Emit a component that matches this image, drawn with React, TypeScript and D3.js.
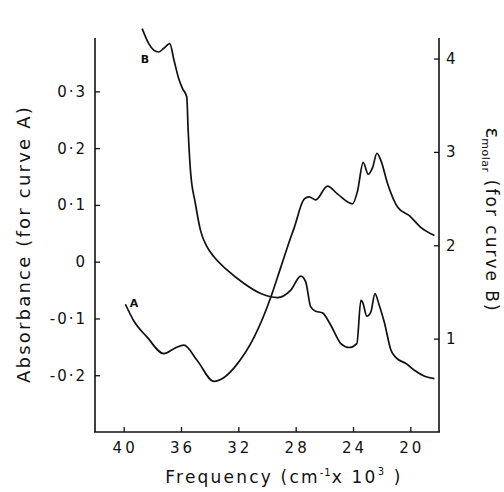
import React, { useEffect, useRef } from "react";
import * as d3 from "d3";

// curve A: absorbance (left axis)
const freqA = [39.88, 39.3, 38.36, 37.2, 36.4, 35.8, 34.87, 33.7, 33.0, 32.07, 30.9, 29.74, 29.04, 28.34, 28.1, 27.41, 27.06, 26.6, 25.78, 25.07, 24.03, 23.68, 23.29, 22.94, 22.63, 22.33, 22.05, 21.58, 20.88, 20.07, 19.25, 18.32];
const absA = [-0.075, -0.104, -0.133, -0.162, -0.152, -0.147, -0.174, -0.211, -0.204, -0.18, -0.133, -0.063, -0.01, 0.043, 0.06, 0.11, 0.114, 0.109, 0.133, 0.119, 0.102, 0.125, 0.175, 0.154, 0.166, 0.191, 0.178, 0.137, 0.096, 0.081, 0.06, 0.046];

// curve B: molar extinction (right axis)
const freqB = [38.71, 38.25, 37.9, 37.55, 37.2, 36.78, 36.5, 36.15, 35.9, 35.6, 35.5, 35.34, 35.0, 34.64, 34.17, 33.7, 32.77, 31.6, 30.44, 29.27, 28.34, 27.64, 27.3, 26.95, 26.6, 26.13, 25.55, 24.85, 24.27, 23.73, 23.45, 23.33, 23.03, 22.75, 22.47, 22.17, 21.82, 21.35, 21.0, 20.3, 19.72, 19.0, 18.32];
const epsB = [4.32, 4.16, 4.09, 4.07, 4.11, 4.16, 3.99, 3.78, 3.68, 3.59, 3.23, 2.8, 2.45, 2.16, 1.98, 1.876, 1.733, 1.59, 1.483, 1.44, 1.52, 1.669, 1.608, 1.34, 1.294, 1.276, 1.144, 0.947, 0.905, 0.947, 1.41, 1.39, 1.24, 1.286, 1.483, 1.358, 1.179, 0.876, 0.797, 0.733, 0.661, 0.597, 0.572];

const freqTicks = [40, 36, 32, 28, 24, 20];
const absTicks = [-0.2, -0.1, 0, 0.1, 0.2, 0.3];
const absTickLabels = ["-0·2", "-0·1", "0", "0·1", "0·2", "0·3"];
const epsTicks = [1, 2, 3, 4];

const W = 504;
const H = 492;
const left = 95, right = 439, top = 38, bottom = 432;
const font = "'DejaVu Sans', sans-serif";

export default function App() {
  const ref = useRef<SVGSVGElement>(null);

  const x = d3.scaleLinear().domain([42, 18]).range([left, right]);
  const yA = d3.scaleLinear().domain([-0.3, 0.394]).range([bottom, top]);
  const yB = d3.scaleLinear().domain([0, 4.22]).range([bottom, top]);

  useEffect(() => {
    const svg = d3.select(ref.current);
    svg.selectAll(".ax").remove();

    const xAxis = d3.axisTop(x).tickValues(freqTicks).tickSize(5).tickFormat(() => "");
    svg.append("g").attr("class", "ax").attr("transform", `translate(0,${bottom})`).call(xAxis);

    const lAxis = d3.axisRight(yA).tickValues(absTicks).tickSize(5).tickFormat(() => "");
    svg.append("g").attr("class", "ax").attr("transform", `translate(${left},0)`).call(lAxis);

    const rAxis = d3.axisLeft(yB).tickValues(epsTicks).tickSize(5).tickFormat(() => "");
    svg.append("g").attr("class", "ax").attr("transform", `translate(${right},0)`).call(rAxis);

    svg.selectAll(".ax .domain").remove();
    svg.selectAll(".ax line").attr("stroke", "#111").attr("stroke-width", 1.3);

    // bottom tick labels
    svg.append("g").attr("class", "ax")
      .selectAll("text").data(freqTicks).join("text")
      .attr("x", d => x(d) + 1.5).attr("y", 453)
      .attr("text-anchor", "middle")
      .attr("font-family", font).attr("font-size", 15).attr("letter-spacing", 3).attr("fill", "#111")
      .text(d => String(d));

    svg.append("g").attr("class", "ax")
      .selectAll("text").data(absTicks).join("text")
      .attr("x", 87).attr("y", d => yA(d) + 5.5)
      .attr("text-anchor", "end")
      .attr("font-family", font).attr("font-size", 15).attr("letter-spacing", 2).attr("fill", "#111")
      .text((d, i) => absTickLabels[i]);

    svg.append("g").attr("class", "ax")
      .selectAll("text").data(epsTicks).join("text")
      .attr("x", 446).attr("y", d => yB(d) + 5.5)
      .attr("text-anchor", "start")
      .attr("font-family", font).attr("font-size", 15).attr("fill", "#111")
      .text(d => String(d));
  }, []);

  const lineA = d3.line<number>()
    .x((d, i) => x(freqA[i]))
    .y(d => yA(d))
    .curve(d3.curveMonotoneX);
  const lineB = d3.line<number>()
    .x((d, i) => x(freqB[i]))
    .y(d => yB(d))
    .curve(d3.curveMonotoneX);

  return (
    <svg ref={ref} width={W} height={H}
      style={{ position: "absolute", left: 0, top: 0, background: "#fff" }}>
      <rect x={0} y={0} width={W} height={H} fill="#fff" />
      <line x1={left} x2={left} y1={top} y2={bottom} stroke="#111" strokeWidth={1.6} />
      <line x1={right} x2={right} y1={top} y2={bottom} stroke="#111" strokeWidth={1.6} />
      <line x1={left - 1} x2={right + 1} y1={bottom} y2={bottom} stroke="#111" strokeWidth={1.6} />

      <path d={lineA(absA) || ""} fill="none" stroke="#111" strokeWidth={1.7} />
      <path d={lineB(epsB) || ""} fill="none" stroke="#111" strokeWidth={1.7} />

      <text x={145} y={63} fontFamily={font} fontSize={11} fontWeight="bold" textAnchor="middle" fill="#111">B</text>
      <text x={134} y={307} fontFamily={font} fontSize={11} fontWeight="bold" textAnchor="middle" fill="#111">A</text>

      <text transform="translate(30,244) rotate(-90)" textAnchor="middle"
        fontFamily={font} fontSize={18} letterSpacing={2.2} fill="#111">
        Absorbance (for curve A)
      </text>

      <text transform="translate(486,220) rotate(90)" textAnchor="middle"
        fontFamily={font} fill="#111">
        <tspan fontSize={20}>ε</tspan>
        <tspan fontSize={11} dy={4} letterSpacing={0.5}>molar</tspan>
        <tspan fontSize={17} dy={-4} letterSpacing={2}> (for curve B)</tspan>
      </text>

      <text x={284} y={483} textAnchor="middle" fontFamily={font} fontSize={17} fill="#111" letterSpacing={2.2}>
        <tspan>Frequency (cm</tspan>
        <tspan fontSize={10} dy={-7} letterSpacing={1}>-1</tspan>
        <tspan dy={7}>x 10</tspan>
        <tspan fontSize={10} dy={-8}>3</tspan>
        <tspan dy={8}> )</tspan>
      </text>
    </svg>
  );
}
